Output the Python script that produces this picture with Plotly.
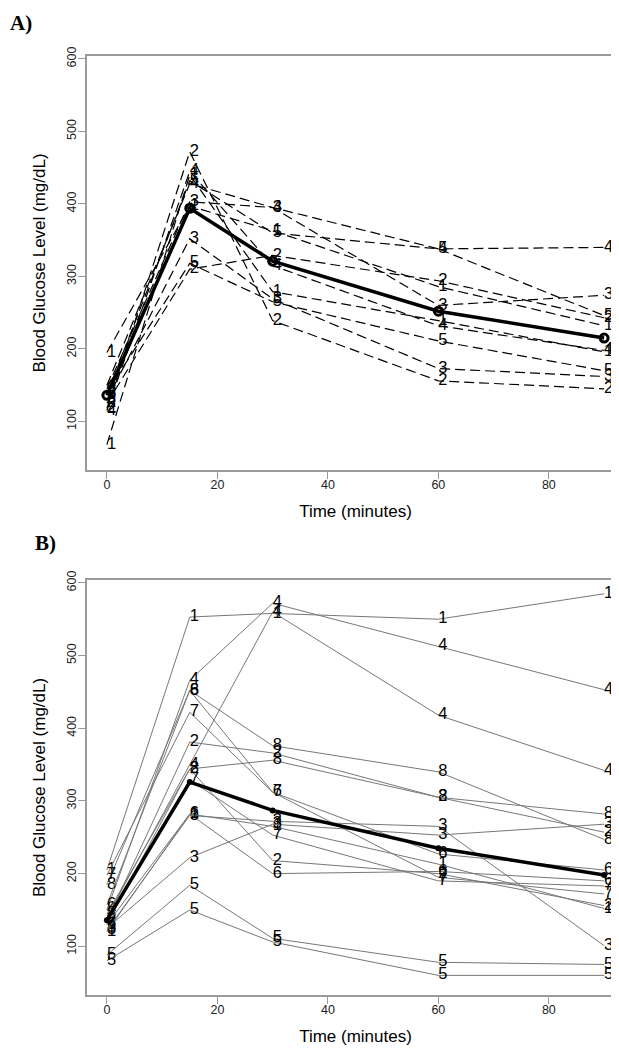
import plotly.graph_objects as go

times = [0, 15, 30, 60, 90]

# ---- panel A: dashed subject lines, label = group number ----
a_labels = ["4", "3", "5", "1", "2", "4", "1", "3", "5", "2"]
a_t0 = [150, 145, 137, 195, 125, 115, 68, 130, 140, 118]
a_t15 = [428, 403, 432, 397, 310, 445, 440, 352, 318, 472]
a_t30 = [395, 395, 360, 363, 329, 315, 279, 269, 265, 239]
a_t60 = [338, 260, 338, 286, 294, 232, 239, 173, 211, 156]
a_t90 = [340, 274, 246, 232, 243, 198, 196, 162, 170, 145]
a_mean = [136, 394, 321, 252, 215]

# ---- panel B: thin grey subject lines ----
b_labels = ["1", "4", "4", "8", "6", "7", "2", "8", "2", "7", "6", "3", "1", "3", "5", "5"]
b_t0 = [205, 150, 140, 185, 157, 198, 135, 144, 130, 135, 130, 122, 120, 125, 88, 80]
b_t15 = [553, 466, 350, 452, 452, 422, 381, 344, 344, 329, 282, 280, 282, 222, 184, 150]
b_t30 = [558, 572, 560, 376, 312, 312, 366, 356, 218, 253, 200, 272, 265, 268, 111, 106]
b_t60 = [550, 513, 418, 340, 227, 195, 305, 305, 200, 190, 203, 265, 213, 253, 78, 60]
b_t90 = [585, 453, 342, 247, 205, 172, 257, 282, 156, 183, 190, 101, 152, 268, 75, 60]
b_mean = [136, 326, 287, 235, 198]

FONT = "Liberation Sans, Arial, sans-serif"

fig = go.Figure()


def add_panel(labels, cols, mean, xa, ya, line_style, mean_marker):
    rows = list(zip(*cols))
    for lab, vals in zip(labels, rows):
        fig.add_trace(go.Scatter(
            x=times, y=list(vals), mode="lines+text",
            text=[lab] * len(times), textposition="middle right",
            textfont=dict(family=FONT, size=16.5, color="black"),
            line=line_style, xaxis=xa, yaxis=ya, cliponaxis=False,
            showlegend=False, hoverinfo="skip"))
    fig.add_trace(go.Scatter(
        x=times, y=mean, mode="lines+markers",
        line=dict(color="black", width=3.5),
        marker=mean_marker, xaxis=xa, yaxis=ya, cliponaxis=False,
        showlegend=False, hoverinfo="skip"))


add_panel(a_labels, [a_t0, a_t15, a_t30, a_t60, a_t90], a_mean, "x", "y",
          dict(color="black", width=1.2, dash="10px,5px"),
          dict(symbol="circle-open", size=8, color="black", line=dict(width=3)))
add_panel(b_labels, [b_t0, b_t15, b_t30, b_t60, b_t90], b_mean, "x2", "y2",
          dict(color="#777777", width=1),
          dict(symbol="circle", size=6, color="black"))

axis_common = dict(
    showline=True, mirror=True, linecolor="#9a9a9a", linewidth=1.5,
    ticks="outside", ticklen=7, tickcolor="#9a9a9a", tickwidth=1,
    showgrid=False, zeroline=False,
    tickfont=dict(family=FONT, size=12.5, color="#222"),
)
xcommon = dict(axis_common, range=[-3.6, 93.6], tickvals=[0, 20, 40, 60, 80],
               ticklabelstandoff=-5,
               title=dict(text="Time (minutes)", font=dict(family=FONT, size=17, color="black"), standoff=14))
ycommon = dict(axis_common, range=[33, 604], tickvals=[100, 200, 300, 400, 500, 600], tickangle=-90,
               ticklabelstandoff=-3,
               title=dict(text="Blood Glucose Level (mg/dL)", font=dict(family=FONT, size=17, color="black"), standoff=15))

fig.update_layout(
    width=619, height=1050,
    margin=dict(l=79, r=1, t=48, b=63),
    plot_bgcolor="white", paper_bgcolor="white",
    xaxis=dict(xcommon, domain=[0, 1], anchor="y"),
    yaxis=dict(ycommon, domain=[0.5591, 1.0], anchor="x"),
    xaxis2=dict(xcommon, domain=[0, 1], anchor="y2"),
    yaxis2=dict(ycommon, domain=[0.0, 0.442], anchor="x2"),
    annotations=[
        dict(text="<b>A)</b>", xref="paper", yref="paper", x=-0.1466, y=1.035,
             xanchor="left", yanchor="middle", showarrow=False,
             font=dict(family="Liberation Serif, Times New Roman, serif", size=21, color="black")),
        dict(text="<b>B)</b>", xref="paper", yref="paper", x=-0.1, y=0.4814,
             xanchor="left", yanchor="middle", showarrow=False,
             font=dict(family="Liberation Serif, Times New Roman, serif", size=21, color="black")),
    ],
)

fig.write_html("out.html")
